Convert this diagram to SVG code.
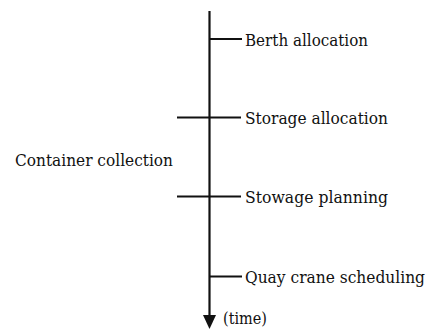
<svg xmlns="http://www.w3.org/2000/svg" width="431" height="331" viewBox="0 0 431 331">
<style>
.ln{stroke:#111;stroke-width:2.2;fill:none}
</style>
<rect width="431" height="331" fill="#fff"/>
<g id="connectors">
<line class="ln" x1="209.5" y1="11" x2="209.5" y2="318" stroke-width="2.6"/>
<polygon points="203,315 216,315 209.5,329" fill="#111"/>
<line class="ln" x1="209.5" y1="39" x2="242" y2="39"/>
<line class="ln" x1="177" y1="117.5" x2="241" y2="117.5"/>
<line class="ln" x1="177" y1="196.5" x2="241" y2="196.5"/>
<line class="ln" x1="209.5" y1="276.5" x2="242" y2="276.5"/>
</g>
<g font-family="DejaVu Serif, serif" font-size="17" fill="#111">
<g id="berth"><text x="245" y="45.5" textLength="123" lengthAdjust="spacingAndGlyphs">Berth allocation</text></g>
<g id="storage"><text x="245" y="124" textLength="143" lengthAdjust="spacingAndGlyphs">Storage allocation</text></g>
<g id="stowage"><text x="245" y="203" textLength="143" lengthAdjust="spacingAndGlyphs">Stowage planning</text></g>
<g id="quay"><text x="245" y="283" textLength="180" lengthAdjust="spacingAndGlyphs">Quay crane scheduling</text></g>
<g id="container"><text x="15" y="166" textLength="158" lengthAdjust="spacingAndGlyphs">Container collection</text></g>
<g id="time"><text x="223" y="324" textLength="44" lengthAdjust="spacingAndGlyphs">(time)</text></g>
</g>
</svg>
